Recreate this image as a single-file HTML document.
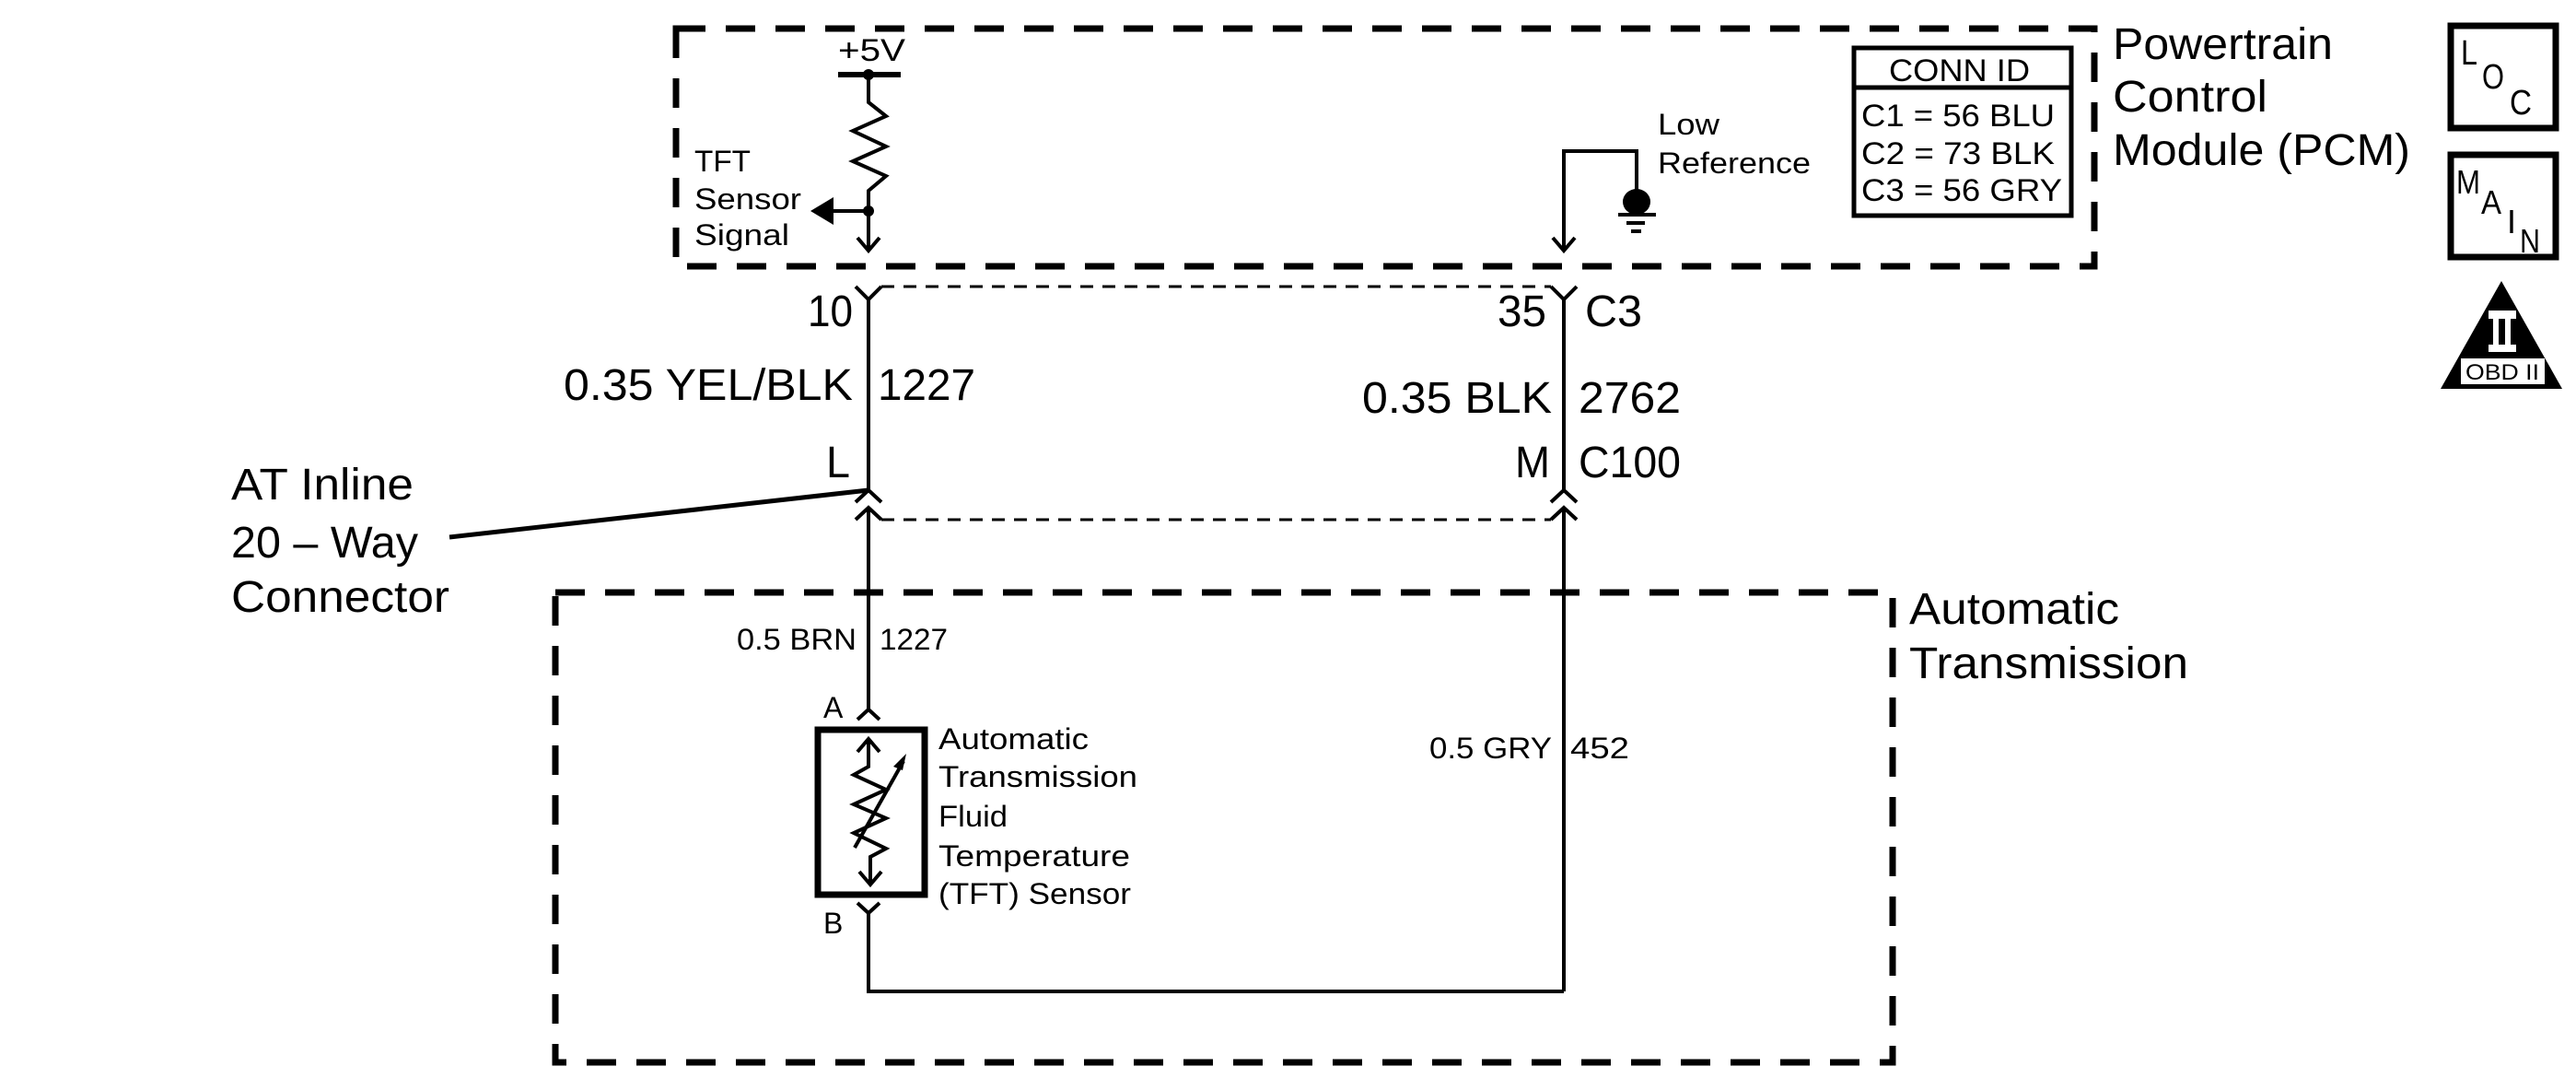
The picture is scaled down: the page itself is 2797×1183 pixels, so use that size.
<!DOCTYPE html>
<html><head><meta charset="utf-8"><style>
html,body{margin:0;padding:0;background:#fff;}
svg{display:block;}
text{font-family:"Liberation Sans",Arial,sans-serif;fill:#000;}
</style></head><body>
<svg width="2797" height="1183" viewBox="0 0 2797 1183" xmlns="http://www.w3.org/2000/svg">
<g fill="none" stroke="#000">
<rect x="734" y="31" width="1540" height="258" stroke-width="7" stroke-dasharray="32 22"/>
<rect x="603" y="643" width="1452" height="510" stroke-width="7" stroke-dasharray="32 22"/>
<line x1="957" y1="311" x2="1684" y2="311" stroke-width="3" stroke-dasharray="14 10"/>
<line x1="957" y1="564" x2="1684" y2="564" stroke-width="3" stroke-dasharray="14 10"/>
</g>
<g fill="none" stroke="#000" stroke-width="4">
<line x1="910" y1="81" x2="978" y2="81" stroke-width="6"/>
<polyline points="943,81 943,111 962,126 926,142 962,159 926,175 962,191 943,207 943,272"/>
<polyline points="931,258 943,272 955,258"/>
<line x1="943" y1="229" x2="905" y2="229"/>
<polyline points="1698,272 1698,164 1777,164 1777,210"/>
<polyline points="1686,258 1698,272 1710,258"/>
<line x1="1757" y1="233" x2="1798" y2="233"/>
<line x1="1766" y1="242" x2="1786" y2="242"/>
<line x1="1771" y1="251" x2="1782" y2="251"/>
<line x1="943" y1="325" x2="943" y2="532"/>
<line x1="1698" y1="325" x2="1698" y2="532"/>
<polyline points="929,311 943,325 957,311"/>
<polyline points="1684,311 1698,325 1712,311"/>
<polyline points="929,545 943,532 957,545"/>
<polyline points="1684,545 1698,532 1712,545"/>
<polyline points="929,564 943,551 957,564"/>
<polyline points="1684,564 1698,551 1712,564"/>
<line x1="943" y1="551" x2="943" y2="770"/>
<line x1="1698" y1="551" x2="1698" y2="1076"/>
<line x1="488" y1="583" x2="943" y2="532" stroke-width="5"/>
<polyline points="931,781 943,770 955,781"/>
<polyline points="931,980 943,991 955,980"/>
<polyline points="943,991 943,1076 1698,1076"/>
<rect x="888" y="792" width="116" height="179" stroke-width="7"/>
<polyline points="943,802 943,832 927,841 962,857 927,873 962,888 927,904 962,921 945,930 945,960"/>
<polyline points="931,816 943,802 955,816"/>
<polyline points="933,946 945,960 957,946"/>
<line x1="928" y1="920" x2="981" y2="826"/>
<rect x="2661" y="28" width="114" height="111" stroke-width="7"/>
<rect x="2661" y="168" width="114" height="111" stroke-width="7"/>
</g>
<g fill="#000">
<circle cx="943" cy="81" r="6"/>
<circle cx="943" cy="229" r="6"/>
<polygon points="880,229 905,214 905,244"/>
<ellipse cx="1777" cy="219" rx="15" ry="14"/>
<polygon points="984,818 970,832 980,836"/>
<polygon points="2716,305 2650,422 2782,422"/>
</g>
<g fill="#fff">
<rect x="2702" y="337" width="30" height="9"/>
<rect x="2702" y="374" width="30" height="8"/>
<rect x="2707" y="346" width="6" height="28"/>
<rect x="2720" y="346" width="6" height="28"/>
<rect x="2672" y="389" width="91" height="28"/>
</g>
<text x="2717" y="412" font-size="24" text-anchor="middle" textLength="80" lengthAdjust="spacingAndGlyphs">OBD II</text>

<text x="910" y="66" font-size="34" textLength="73" lengthAdjust="spacingAndGlyphs">+5V</text>
<text x="754" y="186" font-size="32" textLength="61" lengthAdjust="spacingAndGlyphs">TFT</text>
<text x="754" y="227" font-size="32" textLength="116" lengthAdjust="spacingAndGlyphs">Sensor</text>
<text x="754" y="266" font-size="32" textLength="103" lengthAdjust="spacingAndGlyphs">Signal</text>
<text x="1800" y="146" font-size="32" textLength="67" lengthAdjust="spacingAndGlyphs">Low</text>
<text x="1800" y="188" font-size="32" textLength="166" lengthAdjust="spacingAndGlyphs">Reference</text>
<rect x="2013" y="52" width="236" height="182" fill="none" stroke="#000" stroke-width="5"/>
<line x1="2013" y1="95" x2="2249" y2="95" stroke="#000" stroke-width="5"/>
<text x="2051" y="88" font-size="34" textLength="153" lengthAdjust="spacingAndGlyphs">CONN ID</text>
<text x="2021" y="137" font-size="34" textLength="210" lengthAdjust="spacingAndGlyphs">C1 = 56 BLU</text>
<text x="2021" y="178" font-size="34" textLength="210" lengthAdjust="spacingAndGlyphs">C2 = 73 BLK</text>
<text x="2021" y="218" font-size="34" textLength="218" lengthAdjust="spacingAndGlyphs">C3 = 56 GRY</text>
<text x="2294" y="64" font-size="48" textLength="239" lengthAdjust="spacingAndGlyphs">Powertrain</text>
<text x="2294" y="121" font-size="48" textLength="168" lengthAdjust="spacingAndGlyphs">Control</text>
<text x="2294" y="179" font-size="48" textLength="323" lengthAdjust="spacingAndGlyphs">Module (PCM)</text>
<text x="2672" y="70" font-size="38" textLength="18" lengthAdjust="spacingAndGlyphs">L</text>
<text x="2695" y="96" font-size="38" textLength="24" lengthAdjust="spacingAndGlyphs">O</text>
<text x="2725" y="124" font-size="38" textLength="24" lengthAdjust="spacingAndGlyphs">C</text>
<text x="2667" y="210" font-size="36" textLength="26" lengthAdjust="spacingAndGlyphs">M</text>
<text x="2694" y="232" font-size="36" textLength="22" lengthAdjust="spacingAndGlyphs">A</text>
<text x="2722" y="253" font-size="36">I</text>
<text x="2736" y="274" font-size="36" textLength="22" lengthAdjust="spacingAndGlyphs">N</text>

<text x="877" y="354" font-size="48" textLength="49" lengthAdjust="spacingAndGlyphs">10</text>
<text x="1626" y="354" font-size="48" textLength="53" lengthAdjust="spacingAndGlyphs">35</text>
<text x="1721" y="354" font-size="48" textLength="62" lengthAdjust="spacingAndGlyphs">C3</text>
<text x="612" y="434" font-size="48" textLength="314" lengthAdjust="spacingAndGlyphs">0.35 YEL/BLK</text>
<text x="953" y="434" font-size="48" textLength="106" lengthAdjust="spacingAndGlyphs">1227</text>
<text x="1479" y="448" font-size="48" textLength="206" lengthAdjust="spacingAndGlyphs">0.35 BLK</text>
<text x="1714" y="448" font-size="48" textLength="111" lengthAdjust="spacingAndGlyphs">2762</text>
<text x="897" y="518" font-size="48" textLength="26" lengthAdjust="spacingAndGlyphs">L</text>
<text x="1645" y="518" font-size="48" textLength="38" lengthAdjust="spacingAndGlyphs">M</text>
<text x="1714" y="518" font-size="48" textLength="111" lengthAdjust="spacingAndGlyphs">C100</text>
<text x="251" y="542" font-size="48" textLength="198" lengthAdjust="spacingAndGlyphs">AT Inline</text>
<text x="251" y="605" font-size="48" textLength="203" lengthAdjust="spacingAndGlyphs">20 – Way</text>
<text x="251" y="664" font-size="48" textLength="237" lengthAdjust="spacingAndGlyphs">Connector</text>
<text x="2073" y="677" font-size="48" textLength="228" lengthAdjust="spacingAndGlyphs">Automatic</text>
<text x="2073" y="736" font-size="48" textLength="303" lengthAdjust="spacingAndGlyphs">Transmission</text>
<text x="800" y="705" font-size="32" textLength="130" lengthAdjust="spacingAndGlyphs">0.5 BRN</text>
<text x="955" y="705" font-size="32" textLength="74" lengthAdjust="spacingAndGlyphs">1227</text>
<text x="1552" y="823" font-size="32" textLength="133" lengthAdjust="spacingAndGlyphs">0.5 GRY</text>
<text x="1705" y="823" font-size="32" textLength="64" lengthAdjust="spacingAndGlyphs">452</text>
<text x="894" y="779" font-size="32">A</text>
<text x="894" y="1013" font-size="32">B</text>
<text x="1019" y="813" font-size="32" textLength="163" lengthAdjust="spacingAndGlyphs">Automatic</text>
<text x="1019" y="854" font-size="32" textLength="216" lengthAdjust="spacingAndGlyphs">Transmission</text>
<text x="1019" y="897" font-size="32" textLength="75" lengthAdjust="spacingAndGlyphs">Fluid</text>
<text x="1019" y="940" font-size="32" textLength="208" lengthAdjust="spacingAndGlyphs">Temperature</text>
<text x="1019" y="981" font-size="32" textLength="209" lengthAdjust="spacingAndGlyphs">(TFT) Sensor</text>
</svg>
</body></html>
